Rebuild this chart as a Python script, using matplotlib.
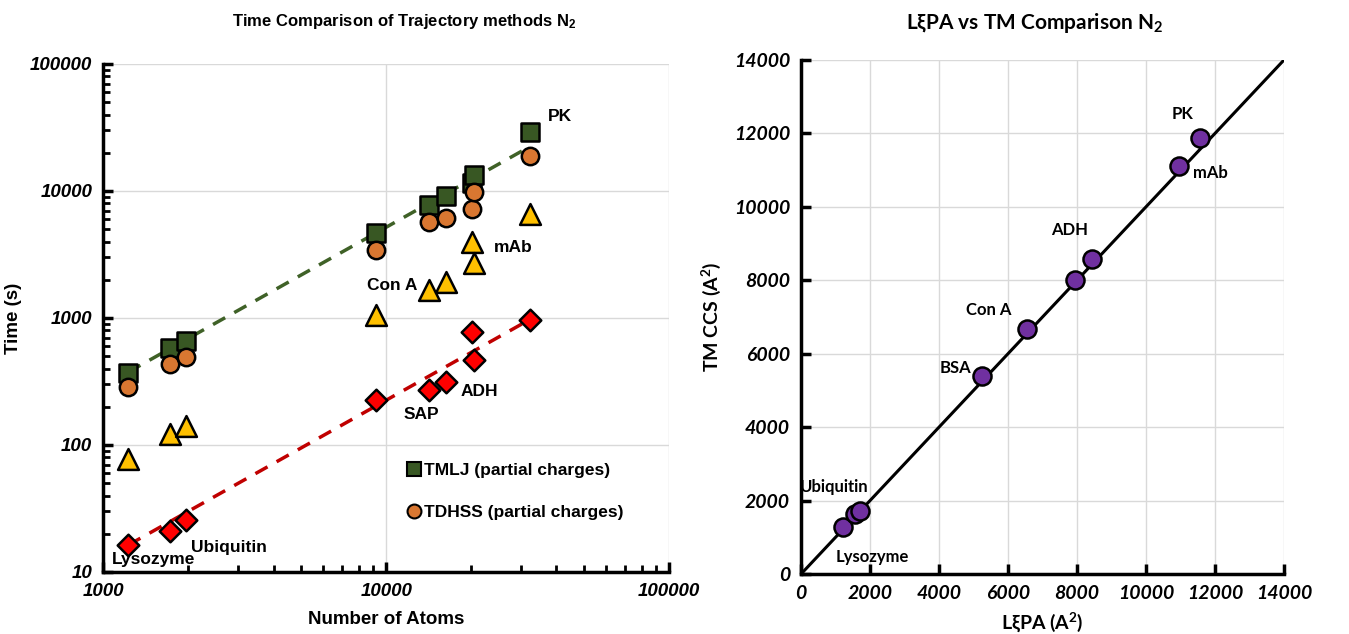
"""
Trajectory method timings and LxiPA vs TM CCS comparison (N2).
"""

import numpy as np
import matplotlib
matplotlib.use("Agg")
import matplotlib.pyplot as plt
from matplotlib.ticker import FuncFormatter, LogLocator, MultipleLocator
from matplotlib.lines import Line2D

# ------------------------------------------------------------
# Data: left panel (time vs number of atoms)
# ------------------------------------------------------------

atoms = [1225, 1722, 1954, 9195, 14220, 16300, 20130, 20460, 32140]

tmlj_time = [370, 581, 656, 4640, 7760, 9190, 11480, 13370, 29300]
tdhss_time = [287, 437, 493, 3430, 5740, 6100, 7180, 9890, 18900]
third_time = [78, 121, 142, 1057, 1660, 1910, 3990, 2690, 6590]
fast_time = [16.3, 21.0, 25.5, 228, 273, 312, 776, 465, 970]

# dashed trend lines, values read at the first and last atom count
trend_atoms = [1225, 32140]
tmlj_trend = [375, 22300]
fast_trend = [16.3, 970]

left_labels = ["PK", "mAb", "Con A", "ADH", "SAP", "Ubiquitin", "Lysozyme"]
left_label_x = [41300, 28200, 10540, 21400, 13360, 2770, 1500]
left_label_y = [38400, 3600, 1790, 265, 174, 15.5, 12.6]

# ------------------------------------------------------------
# Data: right panel (LxiPA vs TM CCS)
# ------------------------------------------------------------

lxipa_ccs = [1215, 1572, 1697, 5236, 6538, 7936, 8447, 10955, 11552]
tm_ccs = [1291, 1636, 1727, 5400, 6673, 8000, 8591, 11109, 11882]

right_labels = ["PK", "mAb", "ADH", "Con A", "BSA", "Ubiquitin", "Lysozyme"]
right_label_x = [11050, 11870, 7772, 5429, 4465, 964, 2073]
right_label_y = [12527, 10927, 9382, 7182, 5609, 2364, 473]

# ------------------------------------------------------------
# Style
# ------------------------------------------------------------

LEFT_FONT = ["Liberation Sans", "DejaVu Sans"]
RIGHT_FONT = ["Lato", "DejaVu Sans"]

plt.rcParams["mathtext.default"] = "regular"

green = "#385723"
orange = "#D97731"
yellow = "#FFC000"
red = "#FF0000"
purple = "#7030A0"
grid_col = "#D9D9D9"

fig = plt.figure(figsize=(13.49, 6.34), dpi=100)

# ------------------------------------------------------------
# Left panel
# ------------------------------------------------------------

ax1 = fig.add_axes([0.0766, 0.0978, 0.4193, 0.8013])
ax1.set_xscale("log")
ax1.set_yscale("log")
ax1.set_xlim(1000, 100000)
ax1.set_ylim(10, 100000)

ax1.grid(True, which="major", color=grid_col, linewidth=1.0)
ax1.set_axisbelow(True)

ax1.plot(trend_atoms, tmlj_trend, "--", color="#3F6127", linewidth=2.5,
         dashes=(4, 3), zorder=2)
ax1.plot(trend_atoms, fast_trend, "--", color="#C00000", linewidth=2.5,
         dashes=(4, 3), zorder=2)

ax1.scatter(atoms, third_time, marker="^", s=15 ** 2, c=yellow,
            edgecolors="black", linewidths=1.8, zorder=3)
ax1.scatter(atoms, fast_time, marker="D", s=11 ** 2, c=red,
            edgecolors="black", linewidths=1.8, zorder=3)
ax1.scatter(atoms, tmlj_time, marker="s", s=13.5 ** 2, c=green,
            edgecolors="black", linewidths=1.8, zorder=3)
ax1.scatter(atoms, tdhss_time, marker="o", s=12.5 ** 2, c=orange,
            edgecolors="black", linewidths=1.8, zorder=4)

for name, x, y in zip(left_labels, left_label_x, left_label_y):
    ax1.text(x, y, name, ha="center", va="center", fontsize=12.5,
             fontweight="bold", family=LEFT_FONT, zorder=5)

handles = [
    Line2D([], [], marker="s", linestyle="none", markersize=10,
           markerfacecolor=green, markeredgecolor="black", markeredgewidth=1.5),
    Line2D([], [], marker="o", linestyle="none", markersize=10,
           markerfacecolor=orange, markeredgecolor="black", markeredgewidth=1.5),
]
ax1.legend(handles, ["TMLJ (partial charges)", "TDHSS (partial charges)"],
           loc="center left", bbox_to_anchor=(0.51, 0.158), frameon=False,
           handlelength=0.8, handletextpad=0.15, labelspacing=1.55,
           prop={"family": LEFT_FONT, "weight": "bold", "size": 12.5})

for side in ["top", "right"]:
    ax1.spines[side].set_visible(False)
for side in ["left", "bottom"]:
    ax1.spines[side].set_linewidth(2.5)

ax1.xaxis.set_major_locator(LogLocator(base=10, numticks=10))
ax1.yaxis.set_major_locator(LogLocator(base=10, numticks=10))
ax1.xaxis.set_minor_locator(LogLocator(base=10, subs=np.arange(2, 10), numticks=20))
ax1.yaxis.set_minor_locator(LogLocator(base=10, subs=np.arange(2, 10), numticks=20))
plain = FuncFormatter(lambda v, p: f"{v:.0f}")
ax1.xaxis.set_major_formatter(plain)
ax1.yaxis.set_major_formatter(plain)
ax1.xaxis.set_minor_formatter(FuncFormatter(lambda v, p: ""))
ax1.yaxis.set_minor_formatter(FuncFormatter(lambda v, p: ""))
ax1.tick_params(which="major", direction="in", length=7, width=2.5, pad=8)
ax1.tick_params(which="minor", direction="in", length=5, width=2)
for lab in ax1.get_xticklabels() + ax1.get_yticklabels():
    lab.set_fontfamily(LEFT_FONT)
    lab.set_fontweight("bold")
    lab.set_fontstyle("italic")
    lab.set_fontsize(13.5)

ax1.set_xlabel("Number of Atoms", family=LEFT_FONT, fontweight="bold",
               fontsize=13.5, labelpad=8)
ax1.set_ylabel("Time (s)", family=LEFT_FONT, fontweight="bold",
               fontsize=13.5, labelpad=6)

fig.text(0.300, 0.966, "Time Comparison of Trajectory methods N$_2$",
         ha="center", va="center", family=LEFT_FONT, fontweight="bold",
         fontsize=12)

# ------------------------------------------------------------
# Right panel
# ------------------------------------------------------------

ax2 = fig.add_axes([0.5938, 0.0946, 0.3580, 0.8108])
ax2.set_xlim(0, 14000)
ax2.set_ylim(0, 14000)
ax2.xaxis.set_major_locator(MultipleLocator(2000))
ax2.yaxis.set_major_locator(MultipleLocator(2000))
ax2.grid(True, color=grid_col, linewidth=1.0)
ax2.set_axisbelow(True)

ax2.plot([0, 14000], [0, 14000], color="black", linewidth=2.2, zorder=2)
ax2.scatter(lxipa_ccs, tm_ccs, marker="o", s=13 ** 2, c=purple,
            edgecolors="black", linewidths=1.8, zorder=3)

for name, x, y in zip(right_labels, right_label_x, right_label_y):
    ax2.text(x, y, name, ha="center", va="center", fontsize=12,
             fontweight="bold", family=RIGHT_FONT, zorder=5)

for side in ["top", "right"]:
    ax2.spines[side].set_visible(False)
for side in ["left", "bottom"]:
    ax2.spines[side].set_linewidth(2.5)

ax2.tick_params(direction="in", length=7, width=2.5, pad=8)
for lab in ax2.get_xticklabels() + ax2.get_yticklabels():
    lab.set_fontfamily(RIGHT_FONT)
    lab.set_fontweight("bold")
    lab.set_fontstyle("italic")
    lab.set_fontsize(14)

ax2.set_xlabel("LξPA (A$^2$)", family=RIGHT_FONT, fontweight="bold",
               fontsize=14, labelpad=6)
ax2.set_ylabel("TM CCS (A$^2$)", family=RIGHT_FONT, fontweight="bold",
               fontsize=14, labelpad=8)

fig.text(0.767, 0.963, "LξPA vs TM Comparison N$_2$",
         ha="center", va="center", family=RIGHT_FONT, fontweight="bold",
         fontsize=15)

fig.savefig("out.png", dpi=100)
